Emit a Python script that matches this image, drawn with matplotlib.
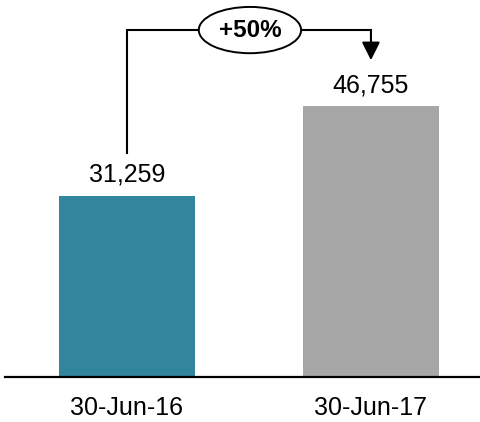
import matplotlib
matplotlib.use('Agg')
import matplotlib.pyplot as plt

plt.rcParams['font.family'] = ['Liberation Sans', 'DejaVu Sans']

dates = ['30-Jun-16', '30-Jun-17']
values = [31259, 46755]
colors = ['#31859C', '#A6A6A6']
growth = '+50%'

fig = plt.figure(figsize=(4.81, 4.22), dpi=100)
ax = fig.add_axes([5 / 481, 1 - 377 / 422, 475 / 481, 367 / 422])

x = range(len(values))
ax.bar(x, values, width=0.557, color=colors)
ax.set_xlim(-0.5, 1.447)
ax.set_ylim(0, values[1] * 367 / 271)

for i, v in enumerate(values):
    ax.annotate('{:,}'.format(v), (i, v), xytext=(0, 10), textcoords='offset points',
                ha='center', va='baseline', fontsize=18)

ax.set_xticks(list(x))
ax.set_xticklabels(dates, fontsize=18)
ax.tick_params(axis='x', length=0, pad=14)
ax.set_yticks([])
for s in ['top', 'left', 'right']:
    ax.spines[s].set_visible(False)
ax.spines['bottom'].set_linewidth(1.6)

# growth bracket between the two bars
top = values[1] + 13100
ax.plot([0, 0, 1], [values[0] + 7400, top, top], color='black', lw=1.5, solid_joinstyle='miter')
ax.annotate('', xy=(1, values[1] + 7900), xytext=(1, top),
            arrowprops=dict(arrowstyle='-|>,head_length=0.5,head_width=0.25', color='black',
                            lw=1.5, mutation_scale=22, shrinkA=0, shrinkB=0))
ax.text(0.504, top, growth, ha='center', va='center', fontsize=17.5, fontweight='bold',
        bbox=dict(boxstyle='ellipse,pad=0.2', fc='white', ec='black', lw=1.4))

fig.savefig('out.png', dpi=100)
